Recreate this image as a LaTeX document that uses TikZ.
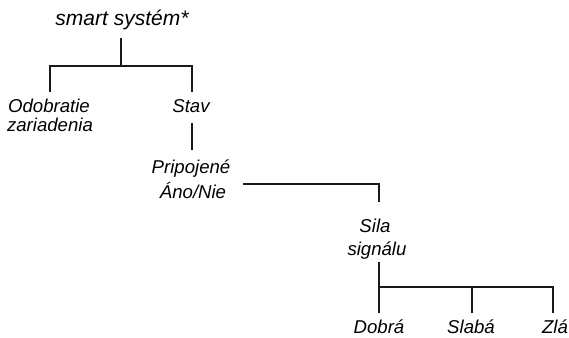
\documentclass[tikz,border=0pt]{standalone}
\usepackage{fontspec}
\setmainfont{Liberation Sans}
\begin{document}
\begin{tikzpicture}[x=1pt,y=-1pt,
  lbl/.style={anchor=base,inner sep=0pt,font=\fontsize{18.6}{18.6}\selectfont\itshape},
  rootlbl/.style={anchor=base,inner sep=0pt,font=\fontsize{21}{21}\selectfont\itshape},
  link/.style={line width=1.8pt,line cap=butt,draw=black!90}]
\useasboundingbox (0,0) rectangle (569,337);
% labels
\node[rootlbl] (root) at (122,26) {smart systém*};
\node[lbl] (odo1) at (49,112) {Odobratie};
\node[lbl] (odo2) at (50,131) {zariadenia};
\node[lbl] (stav) at (191,112) {Stav};
\node[lbl] (prip) at (191,173) {Pripojené};
\node[lbl] (ano) at (193,198) {Áno/Nie};
\node[lbl] (sila1) at (375,232) {Sila};
\node[lbl] (sila2) at (377,255) {signálu};
\node[lbl] (dobra) at (379,333) {Dobrá};
\node[lbl] (slaba) at (471,333) {Slabá};
\node[lbl] (zla) at (555,333) {Zlá};
% junction coordinates
\coordinate (r0) at (121,38);
\coordinate (r1) at (121,66);
\coordinate (bl) at (50,66);
\coordinate (br) at (192,66);
\coordinate (odoTop) at (50,92);
\coordinate (stavTop) at (192,92);
\coordinate (stavBot) at (192,123);
\coordinate (pripTop) at (192,150);
\coordinate (anoR) at (243,184);
\coordinate (sk) at (379,184);
\coordinate (silaTop) at (379,202);
\coordinate (silaBot) at (379,262);
\coordinate (b2) at (379,287);
\coordinate (b2m) at (472,287);
\coordinate (b2r) at (553,287);
\coordinate (dobraTop) at (379,313);
\coordinate (slabaTop) at (472,313);
\coordinate (zlaTop) at (553,313);
% connectors
\draw[link] (r0) -- (r1);
\draw[link] (odoTop) -- (bl) -- (br) -- (stavTop);
\draw[link] (stavBot) -- (pripTop);
\draw[link] (anoR) -- (sk) -- (silaTop);
\draw[link] (silaBot) -- (dobraTop);
\draw[link] (b2) -- (b2r) -- (zlaTop);
\draw[link] (b2m) -- (slabaTop);
\end{tikzpicture}
\end{document}
